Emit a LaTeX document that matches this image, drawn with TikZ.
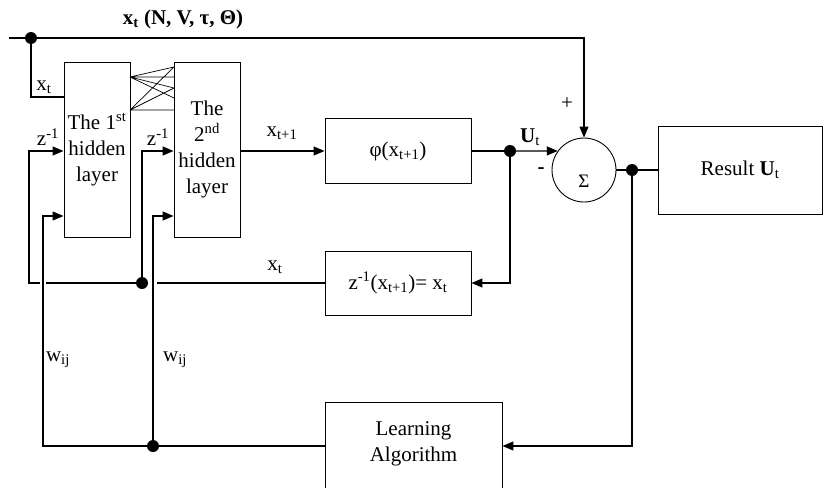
\documentclass[tikz,border=0pt]{standalone}
\usepackage{fontspec}
\setmainfont{Liberation Serif}
\usetikzlibrary{arrows.meta}
\begin{document}
\begin{tikzpicture}[x=1pt,y=-1pt,
  font=\fontsize{21}{26}\selectfont,
  line width=1.3pt,
  blk/.style={draw,line width=0.9pt,inner sep=0pt,align=center},
  arr/.style={-{Triangle[length=11pt,width=9pt]}},
  dot/.style={circle,fill,inner sep=0pt,minimum size=12pt},
  lbl/.style={inner sep=0pt,align=center}]
\useasboundingbox (0,0) rectangle (824,487);
\clip (0,0) rectangle (824,487);

% blocks
\node[blk,minimum width=66pt,minimum height=175pt] (h1) at (97,149.5) {The 1\textsuperscript{st}\\hidden\\layer};
\node[blk,minimum width=66pt,minimum height=175pt] (h2) at (207,149.5) {The\\2\textsuperscript{nd}\\hidden\\layer};
\node[blk,minimum width=146pt,minimum height=65pt] (phi) at (398,151) {φ(x\textsubscript{t+1})};
\node[blk,minimum width=146pt,minimum height=64pt] (zb) at (398,283) {z\textsuperscript{-1}(x\textsubscript{t+1})= x\textsubscript{t}};
\node[blk,circle,minimum size=64pt] (sum) at (584,170) {};
\node[lbl,font=\fontsize{19}{22}\selectfont] (sig) at (584,181) {Σ};
\node[blk,minimum width=164pt,minimum height=88pt] (res) at (740,170) {Result \textbf{U}\textsubscript{t}};
\node[blk,minimum width=177pt,minimum height=120pt,anchor=north] (la) at (413.5,402) {};
\node[lbl] (lat) at (413.5,444) {Learning\\Algorithm};

% helper coordinates
\coordinate (in) at (9,38);
\coordinate (tc) at (584,38);
\coordinate (yA) at (31,97);
\coordinate (zb1) at (29,151);
\coordinate (wb1) at (43,216);
\coordinate (zb2) at (142,151);
\coordinate (wb2) at (153,216);
\coordinate (c1) at (29,283);
\coordinate (g1) at (40,283);
\coordinate (g2) at (46,283);
\coordinate (g3) at (148,283);
\coordinate (g4) at (157,283);
\coordinate (c2) at (43,446);
\coordinate (lain) at ([yshift=-44pt]la.north west);
\coordinate (laout) at ([yshift=-44pt]la.north east);

% dots
\node[dot] (d0) at (31,38) {};
\node[dot] (d3) at (142,283) {};
\node[dot] (d4) at (153,446) {};
\node[dot] (d5) at (510,151) {};
\node[dot] (d6) at (632,170) {};

% input line
\draw[arr] (in) -- (tc) -- (sum.north);
\draw (d0.center) -- (yA) -- (h1.west |- yA);

% fully connected lines between hidden layers
\coordinate (a1) at (130,77);
\coordinate (a2) at (130,110);
\coordinate (r1) at (174,67);
\coordinate (r2) at (174,77);
\coordinate (r3) at (174,88);
\coordinate (r4) at (174,98);
\coordinate (r5) at (174,110);
\draw[line width=0.7pt] (a1) -- (r1) (a1) -- (r2) (a1) -- (r4) (a1) -- (r3)
  (a2) -- (r1) (a2) -- (r3) (a2) -- (r5);

% feedback loops
\draw[arr] (g1) -- (c1) -- (zb1) -- (h1.west |- zb1);
\draw[arr] (lain) -- (c2) -- (wb1) -- (h1.west |- wb1);
\draw[arr] (d3.center) -- (zb2) -- (h2.west |- zb2);
\draw[arr] (d4.center) -- (wb2) -- (h2.west |- wb2);
\draw (zb.west) -- (g4);
\draw (g3) -- (g2);

% forward path
\draw[arr] (h2.east |- phi.west) -- (phi.west);
\draw (phi.east) -- (d5.center);
\draw[arr] (d5.center) -- (sum.144);
\draw[arr] (d5.center) |- (zb.east);
\draw (sum.east) -- (res.west);
\draw[arr] (d6.center) |- (laout);

% labels
\node[lbl] (tit) at (183,19) {\textbf{x\textsubscript{t} (N, V, τ, Θ)}};
\node[lbl] (lx1) at (44,87) {x\textsubscript{t}};
\node[lbl] (lz1) at (48,137) {z\textsuperscript{-1}};
\node[lbl] (lz2) at (158,137) {z\textsuperscript{-1}};
\node[lbl] (lxo) at (282,133) {x\textsubscript{t+1}};
\node[lbl] (lu) at (530,137) {\textbf{U}\textsubscript{t}};
\node[lbl] (lp) at (567,104) {+};
\node[lbl] (lm) at (541,171) {\textbf{-}};
\node[lbl] (lx2) at (275,267) {x\textsubscript{t}};
\node[lbl] (lw1) at (58,360) {w\textsubscript{ij}};
\node[lbl] (lw2) at (175,360) {w\textsubscript{ij}};
\end{tikzpicture}
\end{document}
